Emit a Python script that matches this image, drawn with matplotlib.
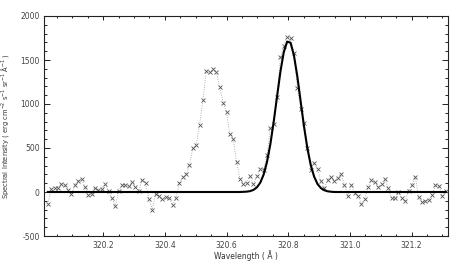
import numpy as np
import matplotlib
matplotlib.use("Agg")
import matplotlib.pyplot as plt
from matplotlib.ticker import MultipleLocator

# Observed spectrum: uniformly sampled wavelength grid (Angstrom)
wavelength_start = 320.0205
wavelength_step = 0.01093
intensity = [
    -135, 31, 50, 45, 95, 78, 20, -27, 78, 130,
    148, 61, -38, -18, 50, 18, 29, 90, 6, -73,
    -162, 8, 81, 75, 64, 110, 58, 17, 142, 100,
    -85, -200, -23, -50, -85, -55, -64, -150, -70, 100,
    165, 205, 303, 497, 533, 764, 1043, 1378, 1359, 1398,
    1363, 1195, 1016, 909, 658, 601, 338, 150, 95, 105,
    180, 89, 177, 258, 250, 416, 724, 774, 1082, 1532,
    1660, 1756, 1750, 1582, 1186, 947, 785, 505, 254, 331,
    260, 125, 40, 142, 175, 125, 158, 208, 81, -46,
    81, -10, -46, -131, -85, 61, 131, 108, 61, 90,
    150, 43, -73, -73, -4, -73, -104, 13, 81, 173,
    -61, -112, -100, -92, -35, 81, 73, -45, 15,
]
# Gaussian fit evaluated on the same grid
fit_values = (
    [0] * 58
    + [2, 4, 10, 24, 52, 105, 196, 339, 541, 798,
       1087, 1369, 1591, 1709, 1696, 1554, 1316, 1029, 743, 496,
       305, 174, 91, 44, 20, 8, 3]
    + [0] * 34
)

x_ticks = [320.2, 320.4, 320.6, 320.8, 321.0, 321.2]
y_ticks = [-500, 0, 500, 1000, 1500, 2000]

wavelength = wavelength_start + wavelength_step * np.arange(len(intensity))

W, H = 463, 266
fig = plt.figure(figsize=(W / 100, H / 100), dpi=100)
ax = fig.add_axes([44 / W, 1 - 236 / H, (448 - 44) / W, 220 / H])

ink = "#222222"
ax.plot(wavelength, intensity, linestyle=(0, (1, 1.8)), color="#999999",
        linewidth=0.6, zorder=2)
ax.plot(wavelength, intensity, linestyle="none", marker="x",
        markersize=2.4, markeredgewidth=0.6, color="#555555", zorder=3)
ax.plot(wavelength, fit_values, color="black", linewidth=1.5, zorder=4)

ax.set_xlim(320.008, 321.318)
ax.set_ylim(-500, 2000)
ax.set_xticks(x_ticks)
ax.set_xticklabels([f"{v:.1f}" for v in x_ticks])
ax.set_yticks(y_ticks)
ax.set_yticklabels([str(v) for v in y_ticks])
ax.xaxis.set_minor_locator(MultipleLocator(0.05))
ax.yaxis.set_minor_locator(MultipleLocator(100))

for side in ax.spines.values():
    side.set_linewidth(0.8)
    side.set_color(ink)

ax.tick_params(axis="both", which="both", direction="in", top=True,
               right=True, colors=ink, labelsize=5.5, width=0.7)
ax.tick_params(axis="x", which="major", length=3.0, pad=3.5)
ax.tick_params(axis="x", which="minor", length=1.6)
ax.tick_params(axis="y", which="major", length=4.5, pad=3)
ax.tick_params(axis="y", which="minor", length=2.5)
for lab in ax.get_xticklabels() + ax.get_yticklabels():
    lab.set_color("#444444")

ax.set_xlabel("Wavelength ( Å )", fontsize=5.5, color="#333333", labelpad=0)
ax.set_ylabel("Spectral Intensity ( erg cm$^{-2}$ s$^{-1}$ sr$^{-1}$ Å$^{-1}$ )",
              fontsize=4.9, color="#333333", labelpad=7)

fig.savefig("out.png", dpi=100)
